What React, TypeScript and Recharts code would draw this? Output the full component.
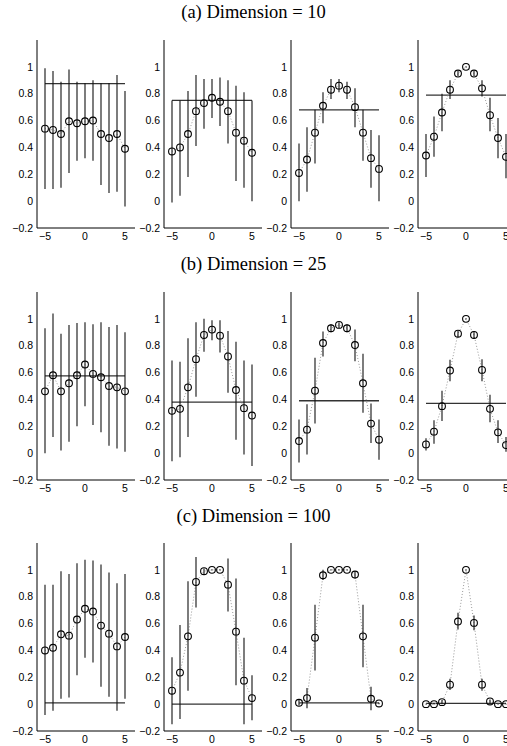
import React from 'react';
import { ComposedChart, XAxis, YAxis, Line, Scatter, ErrorBar, ReferenceLine } from 'recharts';

const xValues = [-5, -4, -3, -2, -1, 0, 1, 2, 3, 4, 5];
const xTicks = [-5, 0, 5];
const yTicks = [-0.2, 0, 0.2, 0.4, 0.6, 0.8, 1];
const titles = ['(a) Dimension = 10', '(b) Dimension = 25', '(c) Dimension = 100'];

// Row (a)
const a1Mean = [0.54, 0.53, 0.5, 0.595, 0.58, 0.595, 0.6, 0.5, 0.47, 0.5, 0.39];
const a1Hi = [0.99, 0.97, 0.89, 0.98, 0.89, 0.88, 0.9, 0.88, 0.88, 0.94, 0.82];
const a1Lo = [0.09, 0.09, 0.1, 0.21, 0.3, 0.32, 0.3, 0.12, 0.06, 0.07, -0.04];
const a1Level = 0.875;

const a2Mean = [0.37, 0.4, 0.5, 0.67, 0.73, 0.77, 0.74, 0.67, 0.51, 0.45, 0.36];
const a2Hi = [0.75, 0.75, 0.82, 0.94, 0.91, 0.91, 0.92, 0.9, 0.86, 0.81, 0.75];
const a2Lo = [-0.01, 0.04, 0.18, 0.41, 0.54, 0.62, 0.56, 0.43, 0.15, 0.1, 0.0];
const a2Level = 0.75;

const a3Mean = [0.21, 0.31, 0.51, 0.71, 0.83, 0.86, 0.83, 0.7, 0.51, 0.32, 0.24];
const a3Hi = [0.43, 0.55, 0.68, 0.81, 0.91, 0.91, 0.89, 0.84, 0.68, 0.53, 0.49];
const a3Lo = [0.0, 0.07, 0.28, 0.58, 0.76, 0.81, 0.76, 0.55, 0.3, 0.1, 0.0];
const a3Level = 0.68;

const a4Mean = [0.34, 0.48, 0.66, 0.83, 0.95, 1.0, 0.95, 0.84, 0.64, 0.47, 0.33];
const a4Hi = [0.5, 0.63, 0.8, 0.9, 0.97, 1.005, 0.97, 0.9, 0.77, 0.62, 0.5];
const a4Lo = [0.18, 0.33, 0.52, 0.76, 0.93, 0.995, 0.93, 0.78, 0.52, 0.32, 0.17];
const a4Level = 0.79;

// Row (b)
const b1Mean = [0.46, 0.58, 0.46, 0.52, 0.58, 0.66, 0.59, 0.565, 0.5, 0.49, 0.46];
const b1Hi = [0.93, 1.04, 0.89, 0.955, 0.97, 0.975, 0.96, 0.975, 0.94, 0.955, 0.9];
const b1Lo = [0.0, 0.12, 0.02, 0.085, 0.2, 0.35, 0.21, 0.155, 0.055, 0.035, 0.01];
const b1Level = 0.575;

const b2Mean = [0.315, 0.33, 0.49, 0.7, 0.88, 0.92, 0.875, 0.72, 0.47, 0.335, 0.28];
const b2Hi = [0.69, 0.68, 0.855, 0.975, 1.0, 0.99, 0.99, 0.91, 0.83, 0.69, 0.66];
const b2Lo = [-0.06, -0.03, 0.12, 0.42, 0.755, 0.84, 0.75, 0.45, 0.1, -0.01, -0.095];
const b2Level = 0.38;

const b3Mean = [0.09, 0.175, 0.465, 0.82, 0.93, 0.955, 0.93, 0.805, 0.52, 0.22, 0.1];
const b3Hi = [0.25, 0.365, 0.71, 0.905, 0.96, 0.975, 0.96, 0.92, 0.74, 0.37, 0.25];
const b3Lo = [-0.07, -0.01, 0.22, 0.72, 0.9, 0.93, 0.9, 0.685, 0.3, 0.075, -0.05];
const b3Level = 0.39;

const b4Mean = [0.065, 0.16, 0.35, 0.615, 0.89, 1.0, 0.88, 0.62, 0.33, 0.155, 0.06];
const b4Hi = [0.11, 0.245, 0.465, 0.695, 0.91, 1.005, 0.905, 0.7, 0.435, 0.245, 0.12];
const b4Lo = [0.02, 0.07, 0.24, 0.535, 0.86, 0.995, 0.855, 0.535, 0.23, 0.075, 0.01];
const b4Level = 0.37;

// Row (c)
const c1Mean = [0.4, 0.42, 0.52, 0.51, 0.63, 0.71, 0.69, 0.585, 0.525, 0.43, 0.5];
const c1Hi = [0.89, 0.89, 0.99, 0.97, 1.05, 1.075, 1.07, 1.04, 0.98, 0.9, 0.97];
const c1Lo = [-0.08, -0.05, 0.04, 0.05, 0.215, 0.345, 0.31, 0.13, 0.055, -0.05, 0.04];
const c1Level = 0.01;

const c2Mean = [0.1, 0.235, 0.505, 0.91, 0.99, 1.0, 1.0, 0.89, 0.54, 0.175, 0.045];
const c2Hi = [0.35, 0.59, 0.915, 1.095, 1.01, 1.005, 1.005, 1.085, 0.935, 0.495, 0.215];
const c2Lo = [-0.15, -0.11, 0.1, 0.72, 0.97, 0.995, 0.995, 0.69, 0.14, -0.15, -0.12];
const c2Level = 0.0;

const c3Mean = [0.01, 0.045, 0.495, 0.96, 1.0, 1.0, 1.0, 0.965, 0.505, 0.04, 0.005];
const c3Hi = [0.03, 0.12, 0.74, 1.0, 1.005, 1.005, 1.005, 0.99, 0.74, 0.13, 0.01];
const c3Lo = [-0.01, -0.03, 0.25, 0.925, 0.995, 0.995, 0.995, 0.935, 0.275, -0.045, 0.0];
const c3Level = 0.01;

const c4Mean = [0, 0, 0.015, 0.145, 0.615, 1.0, 0.605, 0.145, 0.02, 0, 0];
const c4Hi = [0.002, 0.002, 0.03, 0.19, 0.68, 1.005, 0.66, 0.19, 0.035, 0.002, 0.002];
const c4Lo = [-0.002, -0.002, 0.0, 0.105, 0.555, 0.995, 0.55, 0.1, 0.005, -0.002, -0.002];
const c4Level = 0.005;

const rows = [
  [
    { mean: a1Mean, hi: a1Hi, lo: a1Lo, level: a1Level },
    { mean: a2Mean, hi: a2Hi, lo: a2Lo, level: a2Level },
    { mean: a3Mean, hi: a3Hi, lo: a3Lo, level: a3Level },
    { mean: a4Mean, hi: a4Hi, lo: a4Lo, level: a4Level },
  ],
  [
    { mean: b1Mean, hi: b1Hi, lo: b1Lo, level: b1Level },
    { mean: b2Mean, hi: b2Hi, lo: b2Lo, level: b2Level },
    { mean: b3Mean, hi: b3Hi, lo: b3Lo, level: b3Level },
    { mean: b4Mean, hi: b4Hi, lo: b4Lo, level: b4Level },
  ],
  [
    { mean: c1Mean, hi: c1Hi, lo: c1Lo, level: c1Level },
    { mean: c2Mean, hi: c2Hi, lo: c2Lo, level: c2Level },
    { mean: c3Mean, hi: c3Hi, lo: c3Lo, level: c3Level },
    { mean: c4Mean, hi: c4Hi, lo: c4Lo, level: c4Level },
  ],
];

const PANEL_LEFTS = [37, 164, 291, 418];
const ROW_TOPS = [40, 291.5, 543];
const TITLE_TOPS = [2, 254, 506];
const Y_AXIS_W = 37;
const PLOT_W = 98;
const PLOT_H = 188;
const M_TOP = 6;
const X_AXIS_H = 20;

const tickFont = { fontFamily: '"Liberation Sans", Arial, sans-serif', fontSize: 10.5, fill: '#000' };
const fmt = (v: number) => String(v).replace('-', '\u2212');

const Circle = (props: any) => {
  const { cx, cy } = props;
  if (cx == null || cy == null) return null;
  return <circle cx={cx} cy={cy} r={3.4} fill="none" stroke="#000" strokeWidth={1.1} />;
};

function Panel({ series, left, top }: { series: any; left: number; top: number }) {
  const data = xValues.map((x, i) => ({
    x,
    mean: series.mean[i],
    err: [series.mean[i] - series.lo[i], series.hi[i] - series.mean[i]],
  }));
  return (
    <div style={{ position: 'absolute', left: left - Y_AXIS_W, top: top - M_TOP }}>
      <ComposedChart
        width={Y_AXIS_W + PLOT_W + 4}
        height={M_TOP + PLOT_H + X_AXIS_H}
        data={data}
        margin={{ top: M_TOP, right: 4, bottom: 0, left: 0 }}
      >
        <XAxis
          dataKey="x"
          type="number"
          domain={[-6, 6.25]}
          allowDataOverflow
          ticks={xTicks}
          tickFormatter={fmt}
          tick={tickFont}
          tickLine={false}
          tickSize={3}
          tickMargin={2}
          height={X_AXIS_H}
          axisLine={{ stroke: '#000', strokeWidth: 1 }}
        />
        <YAxis
          type="number"
          domain={[-0.2, 1.2]}
          allowDataOverflow
          ticks={yTicks}
          tickFormatter={fmt}
          tick={tickFont}
          tickLine={false}
          tickSize={2}
          tickMargin={2}
          width={Y_AXIS_W}
          axisLine={{ stroke: '#000', strokeWidth: 1 }}
        />
        <ReferenceLine
          segment={[{ x: -5, y: series.level }, { x: 5, y: series.level }]}
          stroke="#333"
          strokeWidth={1.3}
          ifOverflow="visible"
        />
        <Line
          dataKey="mean"
          stroke="#999"
          strokeWidth={1}
          strokeDasharray="1 2"
          dot={false}
          activeDot={false}
          isAnimationActive={false}
        />
        <Scatter dataKey="mean" shape={Circle} isAnimationActive={false}>
          <ErrorBar dataKey="err" direction="y" width={0} stroke="#111" strokeWidth={1.1} isAnimationActive={false} />
        </Scatter>
      </ComposedChart>
    </div>
  );
}

export default function App() {
  return (
    <div
      style={{
        position: 'absolute',
        left: 0,
        top: 0,
        width: 507,
        height: 746,
        overflow: 'hidden',
        background: '#fff',
      }}
    >
      {titles.map((t, r) => (
        <div
          key={t}
          style={{
            position: 'absolute',
            left: 0,
            top: TITLE_TOPS[r],
            width: 507,
            textAlign: 'center',
            fontFamily: '"Liberation Serif", "Times New Roman", serif',
            fontSize: 18.5,
            lineHeight: '20px',
            color: '#000',
          }}
        >
          {t}
        </div>
      ))}
      {rows.map((row, r) =>
        row.map((series, c) => (
          <Panel key={`${r}-${c}`} series={series} left={PANEL_LEFTS[c]} top={ROW_TOPS[r]} />
        ))
      )}
    </div>
  );
}
